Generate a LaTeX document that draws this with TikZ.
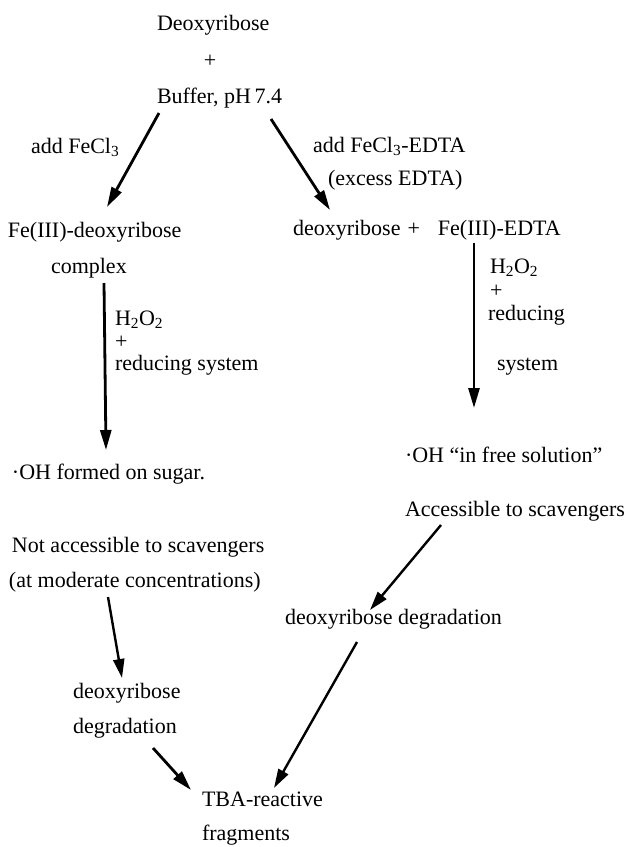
\documentclass[tikz,border=0pt]{standalone}
\usepackage{fontspec}
\setmainfont{Liberation Serif}
\usetikzlibrary{arrows.meta}
\tikzset{
  lbl/.style={anchor=base west, inner sep=0pt, outer sep=0pt, font=\fontsize{22}{24}\selectfont},
  lblc/.style={anchor=base, inner sep=0pt, outer sep=0pt, font=\fontsize{22}{24}\selectfont},
  arr/.style={line width=2.8pt, -{Triangle[length=20pt,width=11pt]}},
  thinarr/.style={line width=2.4pt, -{Triangle[length=19pt,width=11pt]}},
}
\begin{document}
\begin{tikzpicture}[x=1pt,y=-1pt]
\useasboundingbox (0,0) rectangle (639,847);
% top
\node[lbl] (deox) at (157,30) {Deoxyribose};
\node[lblc] (plus) at (210,67) {+};
\node[lbl] (buf) at (157,103) {Buffer, pH\,7.4};
\node[lbl] (addfe) at (31,153) {add FeCl\textsubscript{3}};
\node[lbl] (addedta) at (313,152) {add FeCl\textsubscript{3}-EDTA};
\node[lbl] (excess) at (328,185) {(excess EDTA)};
% second level
\node[lbl] (fedeox) at (8,237) {Fe(III)-deoxyribose};
\node[lbl] (complex) at (51,273) {complex};
\node[lbl] (deoxfe) at (293,235) {deoxyribose\hspace{7pt}+\hspace{18pt}Fe(III)-EDTA};
% left reagents
\node[lbl] (lh) at (115,325) {H\textsubscript{2}O\textsubscript{2}};
\node[lbl] (lp) at (115,348) {+};
\node[lbl] (lr) at (115,370) {reducing system};
% right reagents
\node[lbl] (rh) at (490,273) {H\textsubscript{2}O\textsubscript{2}};
\node[lbl] (rp) at (490,297) {+};
\node[lbl] (rr) at (488,320) {reducing};
\node[lbl] (rs) at (497,370) {system};
% OH
\node[lbl] (ohl) at (12,479) {·OH formed on sugar.};
\node[lbl] (ohr) at (405,462) {·OH ``in free solution''};
\node[lbl] (acc) at (405,516) {Accessible to scavengers};
\node[lbl] (nacc) at (12,552) {Not accessible to scavengers};
\node[lbl] (mod) at (9,587) {(at moderate concentrations)};
\node[lbl] (degr) at (285,624) {deoxyribose degradation};
\node[lbl] (degl1) at (73,698) {deoxyribose};
\node[lbl] (degl2) at (73,733) {degradation};
\node[lbl] (tba) at (202,806) {TBA-reactive};
\node[lbl] (frag) at (202,840) {fragments};
% arrow ends
\coordinate (a1s) at (159,113); \coordinate (a1e) at (107,207);
\coordinate (a2s) at (271,119); \coordinate (a2e) at (330,210);
\coordinate (a3s) at (104,283); \coordinate (a3e) at (106,450);
\coordinate (a4s) at (474,243); \coordinate (a4e) at (474,408);
\coordinate (a5s) at (441,525); \coordinate (a5e) at (370,610);
\coordinate (a6s) at (108,597); \coordinate (a6e) at (122,678);
\coordinate (a7s) at (153,748); \coordinate (a7e) at (191,790);
\coordinate (a8s) at (357,642); \coordinate (a8e) at (274,788);
\draw[arr] (a1s) -- (a1e);
\draw[arr] (a2s) -- (a2e);
\draw[arr] (a3s) -- (a3e);
\draw[arr] (a4s) -- (a4e);
\draw[thinarr] (a5s) -- (a5e);
\draw[thinarr] (a6s) -- (a6e);
\draw[arr] (a7s) -- (a7e);
\draw[thinarr] (a8s) -- (a8e);
\end{tikzpicture}
\end{document}
